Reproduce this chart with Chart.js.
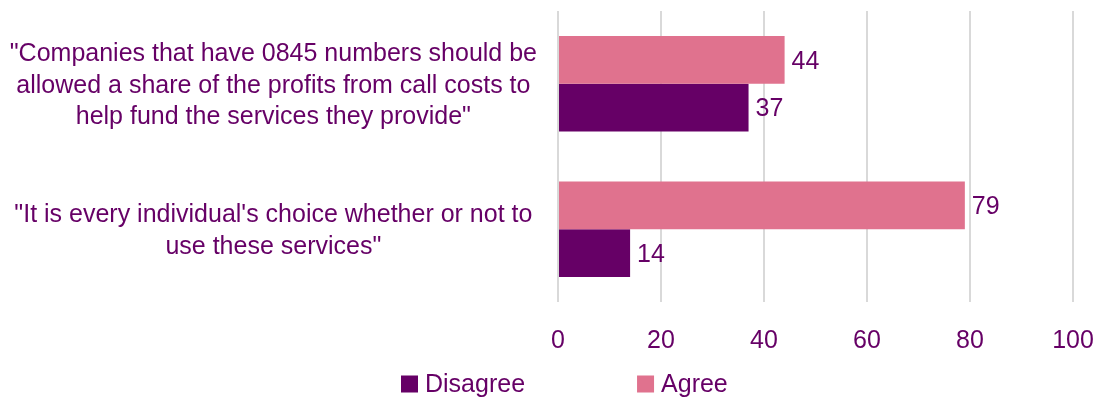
<!DOCTYPE html>
<html>
<head>
<meta charset="utf-8">
<script src="https://cdn.jsdelivr.net/npm/chart.js@4"></script>
<style>
  html, body { margin: 0; padding: 0; background: #ffffff; }
  #wrap { width: 1100px; height: 398px; position: relative; }
</style>
</head>
<body>
<div id="wrap"><canvas id="c"></canvas></div>
<script>
// Survey statements (multi-line axis labels)
const categories = [
  ['"Companies that have 0845 numbers should be', 'allowed a share of the profits from call costs to', 'help fund the services they provide"'],
  ['"It is every individual\'s choice whether or not to', 'use these services"']
];
const seriesNames = ['Agree', 'Disagree'];
const agreeValues = [44, 79];
const disagreeValues = [37, 14];
const xTickValues = [0, 20, 40, 60, 80, 100];

const PURPLE = '#660066';
const PINK = '#E0728E';
const FONT = '"Liberation Sans", Arial, sans-serif';
const FONT_SIZE = 25;

// Value labels at the end of each bar
const barValueLabels = {
  id: 'barValueLabels',
  afterDatasetsDraw(chart) {
    const ctx = chart.ctx;
    ctx.save();
    ctx.font = FONT_SIZE + 'px ' + FONT;
    ctx.fillStyle = PURPLE;
    ctx.textAlign = 'left';
    ctx.textBaseline = 'middle';
    chart.data.datasets.forEach((ds, di) => {
      const meta = chart.getDatasetMeta(di);
      meta.data.forEach((el, i) => {
        ctx.fillText(String(ds.data[i]), el.x + 7, el.y + 2);
      });
    });
    ctx.restore();
  }
};

// Legend row below the axis: Disagree first, then Agree
const bottomLegend = {
  id: 'bottomLegend',
  afterDraw(chart) {
    const ctx = chart.ctx;
    const order = [1, 0];
    const box = 17, textGap = 7, itemGap = 112;
    const yMid = 384;
    let x = 401;
    ctx.save();
    ctx.font = FONT_SIZE + 'px ' + FONT;
    ctx.textBaseline = 'middle';
    ctx.textAlign = 'left';
    order.forEach(di => {
      const ds = chart.data.datasets[di];
      ctx.fillStyle = ds.backgroundColor;
      ctx.fillRect(x, yMid - box / 2, box, box);
      x += box + textGap;
      ctx.fillStyle = PURPLE;
      ctx.fillText(ds.label, x, yMid + 1);
      x += ctx.measureText(ds.label).width + itemGap;
    });
    ctx.restore();
  }
};

new Chart(document.getElementById('c'), {
  type: 'bar',
  data: {
    labels: categories,
    datasets: [
      { label: seriesNames[0], data: agreeValues, backgroundColor: PINK },
      { label: seriesNames[1], data: disagreeValues, backgroundColor: PURPLE }
    ]
  },
  options: {
    indexAxis: 'y',
    responsive: true,
    maintainAspectRatio: false,
    animation: false,
    datasets: {
      bar: { categoryPercentage: 0.655, barPercentage: 1.0 }
    },
    layout: { padding: { left: 0, right: 27, top: 11, bottom: 18 } },
    plugins: {
      legend: { display: false },
      tooltip: { enabled: false }
    },
    scales: {
      x: {
        min: 0,
        max: 100,
        afterBuildTicks(scale) {
          scale.ticks = xTickValues.map(v => ({ value: v }));
        },
        afterFit(scale) {
          scale.paddingLeft = 0;
          scale.paddingRight = 0;
        },
        grid: { color: '#D9D9D9', lineWidth: 2, drawTicks: false },
        border: { display: false },
        ticks: {
          padding: 24,
          color: PURPLE,
          font: { family: FONT, size: FONT_SIZE }
        }
      },
      y: {
        afterFit(scale) {
          scale.width = 558;
          scale.paddingTop = 0;
          scale.paddingBottom = 0;
        },
        grid: { display: false, drawTicks: false },
        border: { display: false },
        ticks: {
          crossAlign: 'center',
          padding: 21,
          labelOffset: 2,
          color: PURPLE,
          font: { family: FONT, size: FONT_SIZE, lineHeight: 1.26 }
        }
      }
    }
  },
  plugins: [barValueLabels, bottomLegend]
});
</script>
</body>
</html>
